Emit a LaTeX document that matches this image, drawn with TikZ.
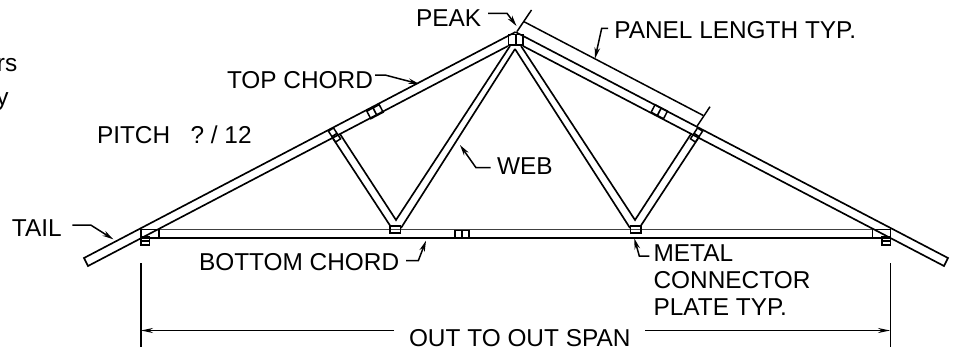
\documentclass[tikz,border=0pt]{standalone}
\usepackage{fontspec}
\setmainfont{Liberation Sans}
\usetikzlibrary{arrows.meta}
\tikzset{
  member/.style={line width=1.65pt,line join=miter,black},
  thinchord/.style={line width=1.7pt,black!75},
  thickchord/.style={line width=2.3pt,black},
  plate/.style={draw,line width=1.5pt,inner sep=0pt,outer sep=0pt,minimum width=#1},
  dimline/.style={line width=1.5pt,black},
  leader/.style={line width=1.5pt,black,-{Stealth[length=11pt,width=5.5pt]}},
  dimarrow/.style={line width=1.4pt,black,-{Stealth[length=12pt,width=5pt]}},
  label/.style={anchor=base west,inner sep=0pt,outer sep=0pt,font=\fontsize{24.4}{24.4}\selectfont,text=black},
}
\begin{document}
\begin{tikzpicture}[x=1pt,y=-1pt]
\useasboundingbox (0,0) rectangle (958,351);
% key points
\coordinate (peakTop) at (515.5,32);
\coordinate (tailLU) at (84,258);
\coordinate (tailLL) at (88,266);
\coordinate (peakLL) at (508,46);
\coordinate (tailRU) at (948,258);
\coordinate (tailRL) at (944,266);
\coordinate (peakRL) at (523,46);
\coordinate (botLU) at (141,229.5);
\coordinate (botRU) at (890,229.5);
\coordinate (botLL) at (141,238);
\coordinate (botRL) at (890,238);
% chords
\draw[member] (peakTop) -- (tailLU) -- (tailLL) -- (peakLL);
\draw[member] (peakTop) -- (tailRU) -- (tailRL) -- (peakRL);
\draw[thinchord] (botLU) -- (botRU);
\draw[thickchord] (botLL) -- (botRL);
% webs
\coordinate (wa1) at (332,137); \coordinate (wa2) at (391,227);
\coordinate (wb1) at (340,134); \coordinate (wb2) at (396,220);
\coordinate (wc1) at (510,46);  \coordinate (wc2) at (401,228);
\coordinate (wd1) at (515,49);
\coordinate (wa3) at (699,137); \coordinate (wa4) at (640,227);
\coordinate (wb3) at (691,134); \coordinate (wb4) at (635,220);
\coordinate (wc3) at (521,46);  \coordinate (wc4) at (630,228);
\draw[member] (wa1) -- (wa2) (wb1) -- (wb2) -- (wc1) (wd1) -- (wc2);
\draw[member] (wa3) -- (wa4) (wb3) -- (wb4) -- (wc3) (wd1) -- (wc4);
% plates
\node[plate=14.5pt,minimum height=10.5pt] (pp) at (515.7,39.8) {};
\draw[member] (pp.north) -- (pp.south);
\node[plate=10.5pt,minimum height=7pt] (pb1) at (395.4,229.7) {};
\node[plate=10.5pt,minimum height=7pt] (pb2) at (635.7,229.7) {};
\node[plate=14pt,minimum height=7pt] (sb) at (462,234) {};
\draw[member] (sb.north) -- (sb.south);
\node[plate=14pt,minimum height=8.5pt,rotate=27.7] (sl) at (375,111.7) {};
\draw[member] (sl.north) -- (sl.south);
\node[plate=14pt,minimum height=8.5pt,rotate=-27.7] (sr) at (659.3,111.7) {};
\draw[member] (sr.north) -- (sr.south);
\node[plate=6pt,minimum height=13pt,rotate=33] (wl) at (334.5,135) {};
\draw[member] (wl.west) -- (wl.east);
\node[plate=6pt,minimum height=13pt,rotate=-33] (wr) at (696.5,135) {};
\draw[member] (wr.west) -- (wr.east);
% heel plates
\node[plate=18pt,minimum height=8pt] (hl) at (150,233.6) {};
\node[plate=8.5pt,minimum height=8.5pt] (hl2) at (145.2,240.8) {};
\draw[member] (hl2.west) -- (hl2.east);
\node[plate=18pt,minimum height=8pt] (hr) at (881.5,233.6) {};
\node[plate=8.5pt,minimum height=8.5pt] (hr2) at (886,240.8) {};
\draw[member] (hr2.west) -- (hr2.east);
% panel dimension
\coordinate (pt1a) at (531.5,10);  \coordinate (pt1b) at (517,31.5);
\coordinate (pt2a) at (710,106.7); \coordinate (pt2b) at (696.7,126.7);
\coordinate (pda) at (524,21.7);   \coordinate (pdb) at (703.3,115.5);
\draw[dimline] (pt1a) -- (pt1b);
\draw[dimline] (pt2a) -- (pt2b);
\draw[dimline] (pda) -- (pdb);
% span dimension
\coordinate (e1a) at (141,263);  \coordinate (e1b) at (141,347);
\coordinate (e2a) at (890.3,263); \coordinate (e2b) at (890.3,347);
\draw[dimline] (e1a) -- (e1b);
\draw[dimline] (e2a) -- (e2b);
% labels
\node[label] (rs) at (-3,71) {rs};
\node[label,anchor=base east] (yy) at (8.5,105) {y};
\node[label] (pitch) at (97,143) {PITCH\ \ \ ? / 12};
\node[label] (topc) at (227,88) {TOP CHORD};
\node[label] (tail) at (12,236) {TAIL};
\node[label] (botc) at (199,270.7) {BOTTOM CHORD};
\node[label] (peak) at (416,26) {PEAK};
\node[label] (panel) at (614.3,38) {PANEL LENGTH TYP.};
\node[label] (web) at (497,174.7) {WEB};
\node[label] (metal) at (653.6,261) {METAL};
\node[label] (conn) at (653.6,288) {CONNECTOR};
\node[label] (platet) at (653.6,315.6) {PLATE TYP.};
\node[label] (span) at (409,346) {OUT TO OUT SPAN};
% span dim lines
\coordinate (sda) at (394,330.5); \coordinate (sdb) at (645,330.5);
\coordinate (sta) at (141,330.5); \coordinate (stb) at (890,330.5);
\draw[dimarrow] (sda) -- (sta);
\draw[dimarrow] (sdb) -- (stb);
% leaders
\coordinate (l1a) at (488,13.3); \coordinate (l1b) at (507,13.3); \coordinate (l1c) at (516.5,26);
\draw[leader] (l1a) -- (l1b) -- (l1c);
\coordinate (l2a) at (608,28.3); \coordinate (l2b) at (601.7,28.3); \coordinate (l2c) at (595,58.5);
\draw[leader] (l2a) -- (l2b) -- (l2c);
\coordinate (l3a) at (375,75); \coordinate (l3b) at (385,75); \coordinate (l3c) at (419.3,84);
\draw[leader] (l3a) -- (l3b) -- (l3c);
\coordinate (l4a) at (490.7,167.7); \coordinate (l4b) at (476,167.7); \coordinate (l4c) at (460,145);
\draw[leader] (l4a) -- (l4b) -- (l4c);
\coordinate (l5a) at (72.3,225); \coordinate (l5b) at (90.7,225); \coordinate (l5c) at (113.3,239.3);
\draw[leader] (l5a) -- (l5b) -- (l5c);
\coordinate (l6a) at (406,260.7); \coordinate (l6b) at (418.3,260.7); \coordinate (l6c) at (426,240.7);
\draw[leader] (l6a) -- (l6b) -- (l6c);
\coordinate (l7a) at (649.3,256); \coordinate (l7b) at (639.3,256); \coordinate (l7c) at (634.3,238.3);
\draw[leader] (l7a) -- (l7b) -- (l7c);
\end{tikzpicture}
\end{document}
